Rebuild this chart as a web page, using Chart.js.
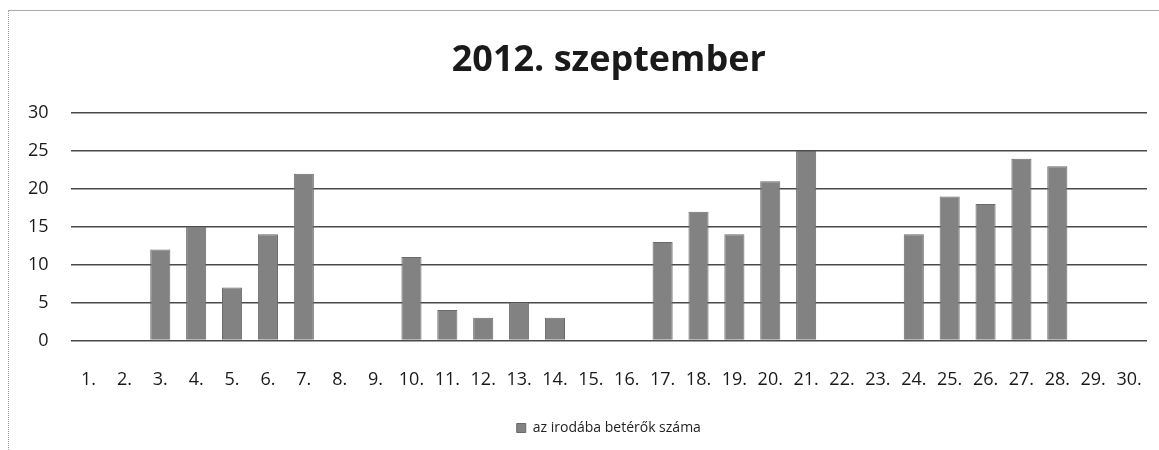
<!DOCTYPE html>
<html>
<head>
<meta charset="utf-8">
<script src="https://cdn.jsdelivr.net/npm/chart.js@4.4.0/dist/chart.umd.min.js"></script>
<style>
  html, body { margin: 0; padding: 0; background: #fff; overflow: hidden; }
  #wrap { position: absolute; left: 0; top: 0; width: 1163px; height: 450px; }
  .edge-left { position: absolute; left: 8px; top: 10px; width: 0; height: 440px; border-left: 1px dotted #999; }
  .edge-top { position: absolute; left: 8px; top: 10px; width: 1151px; height: 0; border-top: 1px solid #aaa; }
  canvas { display: block; }
</style>
</head>
<body>
<div id="wrap"><canvas id="chart"></canvas></div>
<div class="edge-left"></div>
<div class="edge-top"></div>
<script>
// napok (1-30) es a betérők száma
const days = ['1.', '2.', '3.', '4.', '5.', '6.', '7.', '8.', '9.', '10.',
    '11.', '12.', '13.', '14.', '15.', '16.', '17.', '18.', '19.', '20.',
    '21.', '22.', '23.', '24.', '25.', '26.', '27.', '28.', '29.', '30.'];
const visitors = [0, 0, 12, 15, 7, 14, 22, 0, 0, 11,
    4, 3, 5, 3, 0, 0, 13, 17, 14, 21,
    25, 0, 0, 14, 19, 18, 24, 23, 0, 0];
const seriesLabel = 'az irodába betérők száma';
const chartTitle = '2012. szeptember';

const FONT = "'Open Sans', 'Noto Sans', sans-serif";

const ctx = document.getElementById('chart').getContext('2d');
new Chart(ctx, {
    type: 'bar',
    data: {
        labels: days,
        datasets: [{
            label: seriesLabel,
            data: visitors,
            backgroundColor: '#828282',
            borderColor: '#6a6a6a',
            borderWidth: 1,
            barPercentage: 0.56,
            categoryPercentage: 1.0
        }]
    },
    options: {
        responsive: true,
        maintainAspectRatio: false,
        animation: false,
        layout: { padding: { left: 6, right: 0, top: 0, bottom: 5 } },
        plugins: {
            title: {
                display: true,
                fullSize: false,
                text: chartTitle,
                color: '#1a1a1a',
                font: { family: FONT, size: 36, weight: 'bold' },
                padding: { top: 39, bottom: 31 }
            },
            legend: {
                position: 'bottom',
                fullSize: false,
                labels: {
                    color: '#222',
                    font: { family: FONT, size: 14 },
                    boxWidth: 9,
                    boxHeight: 9,
                    padding: 9
                }
            },
            tooltip: { enabled: false }
        },
        scales: {
            x: {
                grid: { display: false },
                border: { display: false },
                ticks: {
                    color: '#1a1a1a',
                    font: { family: FONT, size: 18 },
                    padding: 21,
                    maxRotation: 0,
                    autoSkip: false
                }
            },
            y: {
                min: 0,
                max: 30,
                ticks: {
                    stepSize: 5,
                    color: '#1a1a1a',
                    font: { family: FONT, size: 18 },
                    padding: 22
                },
                grid: { color: '#4a4a4a', lineWidth: 1.5, drawTicks: false },
                border: { display: false }
            }
        }
    }
});
</script>
</body>
</html>
